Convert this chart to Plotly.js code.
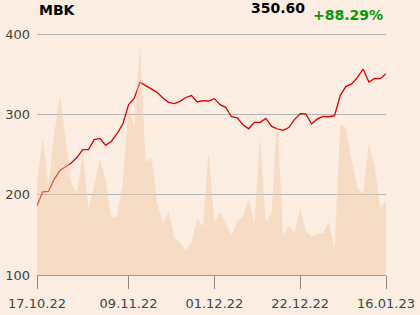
<!DOCTYPE html>
<html>
<head>
<meta charset="utf-8">
<script src="https://cdn.plot.ly/plotly-3.0.1.min.js"></script>
<style>html,body{margin:0;padding:0;background:#fbede1;}#chart{width:420px;height:315px;}</style>
</head>
<body>
<div id="chart"></div>
<script>
const dates = [
  "17.10.22","18.10.22","19.10.22","20.10.22","21.10.22",
  "24.10.22","25.10.22","26.10.22","27.10.22","28.10.22",
  "31.10.22","02.11.22","03.11.22","04.11.22",
  "07.11.22","08.11.22","09.11.22","10.11.22",
  "14.11.22","15.11.22","16.11.22","17.11.22","18.11.22",
  "21.11.22","22.11.22","23.11.22","24.11.22","25.11.22",
  "28.11.22","29.11.22","30.11.22","01.12.22","02.12.22",
  "05.12.22","06.12.22","07.12.22","08.12.22","09.12.22",
  "12.12.22","13.12.22","14.12.22","15.12.22","16.12.22",
  "19.12.22","20.12.22","21.12.22","22.12.22","23.12.22",
  "27.12.22","28.12.22","29.12.22","30.12.22",
  "02.01.23","03.01.23","04.01.23","05.01.23",
  "09.01.23","10.01.23","11.01.23","12.01.23","13.01.23",
  "16.01.23"
];
const price = [
  186.2, 203.5, 204.0, 219.0, 230.0, 234.5, 239.5, 246.5, 256.0, 256.0,
  268.5, 270.0, 261.5, 266.5, 276.0, 288.0, 312.0, 320.0, 340.0, 335.7,
  331.6, 327.4, 320.4, 315.0, 313.3, 316.2, 321.0, 323.3, 315.4, 317.0,
  316.6, 319.5, 312.0, 308.7, 297.0, 295.5, 287.0, 282.0, 290.0, 290.0,
  295.0, 285.0, 281.8, 280.0, 283.5, 293.4, 300.9, 300.5, 288.0, 294.3,
  297.5, 297.0, 298.4, 323.3, 334.8, 337.8, 346.0, 356.4, 340.3, 344.8,
  344.4, 350.6
];
const volume = [
  38.3, 57.3, 36.8, 58.3, 74.9, 56.2, 38.3, 33.7, 50.7, 27.2,
  36.8, 48.9, 38.9, 23.7, 24.4, 38.4, 69.9, 61.6, 94.9, 46.7,
  48.8, 30.1, 21.4, 26.3, 15.6, 13.5, 10.2, 13.5, 23.4, 20.1,
  50.8, 21.9, 26.1, 21.0, 16.5, 22.2, 24.4, 31.3, 21.8, 57.1,
  21.9, 25.9, 65.9, 16.0, 20.5, 17.2, 28.1, 18.2, 16.0, 17.1,
  17.5, 21.9, 9.9, 62.4, 61.1, 47.9, 36.2, 33.7, 54.1, 45.1,
  27.5, 31.0
];
const xTickLabels = ["17.10.22","09.11.22","01.12.22","22.12.22","16.01.23"];
const yTickValues = [100, 200, 300, 400];
const ticker = "MBK";
const lastPrice = "350.60";
const change = "+88.29%";

const bg = "#fbede1";
const traces = [
  {
    x: dates, y: volume, type: "scatter", mode: "none",
    fill: "tozeroy", fillcolor: "rgba(240,199,164,0.45)",
    yaxis: "y2", hoverinfo: "skip", showlegend: false
  },
  {
    x: dates, y: price, type: "scatter", mode: "lines",
    line: {color: "#dd0000", width: 1.3},
    showlegend: false
  }
];
const layout = {
  width: 420, height: 315,
  margin: {l: 37, r: 34, t: 32, b: 40},
  paper_bgcolor: bg, plot_bgcolor: bg,
  font: {family: "DejaVu Sans", size: 13, color: "#444"},
  xaxis: {
    type: "category", range: [0, dates.length - 1],
    tickvals: xTickLabels, ticktext: xTickLabels,
    showgrid: false, zeroline: false,
    showline: true, linecolor: "#999", linewidth: 1,
    ticks: "outside", ticklen: 13, tickcolor: "#888", tickwidth: 1,
    ticklabelstandoff: 3,
    tickfont: {family: "DejaVu Sans", size: 13, color: "#444"}
  },
  yaxis: {
    range: [100, 402.5], tickvals: yTickValues,
    showgrid: true, gridcolor: "#b4b4b4", gridwidth: 1,
    zeroline: false, showline: false, ticks: "",
    ticklabelstandoff: 6,
    tickfont: {family: "DejaVu Sans", size: 13, color: "#444"}
  },
  yaxis2: {
    overlaying: "y", range: [0, 100.83], visible: false, showgrid: false
  },
  annotations: [
    {text: "<b>" + ticker + "</b>", xref: "paper", yref: "paper", x: 0, y: 1,
     xanchor: "left", yanchor: "bottom", yshift: 12, showarrow: false,
     font: {family: "DejaVu Sans", size: 14, color: "#000"}},
    {text: "<b>" + lastPrice + "</b>", xref: "paper", yref: "paper", x: 0.774, y: 1,
     xanchor: "right", yanchor: "bottom", yshift: 14, showarrow: false,
     font: {family: "DejaVu Sans", size: 14, color: "#000"}},
    {text: "<b>" + change + "</b>", xref: "paper", yref: "paper", x: 0.996, y: 1,
     xanchor: "right", yanchor: "bottom", yshift: 7, showarrow: false,
     font: {family: "DejaVu Sans", size: 14, color: "#079a07"}}
  ]
};
Plotly.newPlot("chart", traces, layout, {staticPlot: true, displayModeBar: false});
</script>
</body>
</html>
